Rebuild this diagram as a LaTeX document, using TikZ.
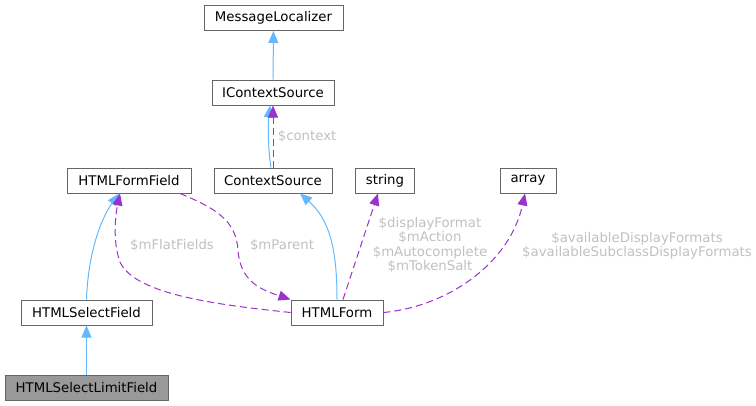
\documentclass[tikz,border=0pt]{standalone}
\usepackage{fontspec}
\setmainfont{DejaVu Sans}
\usetikzlibrary{arrows.meta, positioning}
\definecolor{edgeblue}{HTML}{63B8FF}
\definecolor{edgepurple}{HTML}{9A32CD}
\definecolor{boxgray}{HTML}{666666}
\definecolor{labelgray}{HTML}{C0C0C0}
\definecolor{hilite}{HTML}{999999}

\begin{document}
\begin{tikzpicture}[x=1pt, y=-1pt,
    every node/.style={font=\fontsize{13.3}{16}\selectfont},
    cls/.style={draw=boxgray, line width=1pt, minimum height=25pt, inner sep=0pt, fill=white},
    inherit/.style={edgeblue, line width=1pt, -{Triangle[length=12pt,width=10pt]}},
    usage/.style={edgepurple, line width=1pt, dash pattern=on 7pt off 4pt, -{Triangle[length=12pt,width=10pt]}},
    lbl/.style={text=labelgray, align=center, font=\fontsize{13.3}{14.5}\selectfont}]
    \useasboundingbox (0,0) rectangle (756,405);

    % classes
    \node[cls, minimum width=139pt] (ml) at (273.5,18) {MessageLocalizer};
    \node[cls, minimum width=122pt] (ics) at (273,92.5) {IContextSource};
    \node[cls, minimum width=118pt] (cs) at (273,180.5) {ContextSource};
    \node[cls, minimum width=124pt] (hff) at (129,180.5) {HTMLFormField};
    \node[cls, minimum width=59pt] (str) at (385,180.5) {string};
    \node[cls, minimum width=56pt] (arr) at (528,180.5) {array};
    \node[cls, minimum width=131pt] (hsf) at (86.5,312.5) {HTMLSelectField};
    \node[cls, minimum width=92pt] (hf) at (337,312.5) {HTMLForm};
    \node[cls, fill=hilite, minimum width=163pt] (hslf) at (86.5,387.5) {HTMLSelectLimitField};

    % inheritance
    \draw[inherit] (ics) -- (ml);
    \draw[inherit] ([xshift=-2pt]cs.north) .. controls (268,150) and (268,125) .. ([xshift=-3pt]ics.south);
    \draw[inherit] (hsf.north) .. controls (88,255) and (100,220) .. ([xshift=-10pt]hff.south);
    \draw[inherit] (hslf) -- (hsf);
    \draw[inherit] (hf.north) .. controls (337,250) and (330,220) .. ([xshift=27pt]cs.south);

    % members
    \draw[usage] (cs.north) -- (ics.south) node[lbl, midway, right=1pt] {\$context};
    \draw[usage] (hf.west) .. controls (220,305) and (135,295) .. (120,262)
        .. controls (112,240) and (116,212) .. ([xshift=-9pt]hff.south);
    \node[lbl] (lflat) at (172,245) {\$mFlatFields};
    \draw[usage] ([xshift=51pt]hff.south) .. controls (215,208) and (236,220) .. (238,250)
        .. controls (240,282) and (262,290) .. (hf.north west);
    \node[lbl] (lparent) at (282,245) {\$mParent};
    \draw[usage] ([xshift=6pt]hf.north) -- ([xshift=-7pt]str.south);
    \node[lbl] (lstr) at (430,245) {\$displayFormat\\\$mAction\\\$mAutocomplete\\\$mTokenSalt};
    \draw[usage] (hf.east) .. controls (450,306) and (510,262) .. ([xshift=-3pt]arr.south);
    \node[lbl] (larr) at (637,246) {\$availableDisplayFormats\\\$availableSubclassDisplayFormats};
\end{tikzpicture}
\end{document}
